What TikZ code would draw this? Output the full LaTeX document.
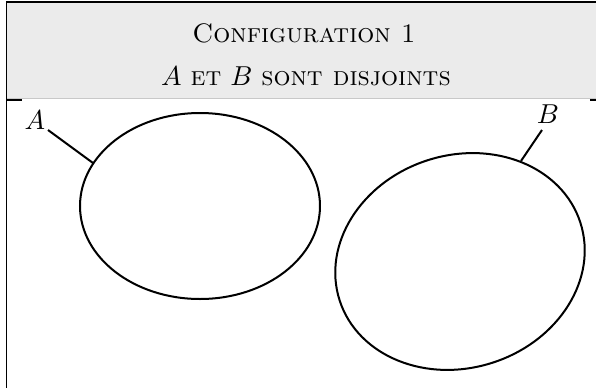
\documentclass[tikz,border=0pt]{standalone}
\usetikzlibrary{calc}
\definecolor{hdrfill}{RGB}{235,235,235}
\definecolor{hdrline}{RGB}{200,200,200}
\begin{document}
\begin{tikzpicture}[x=0.4pt,y=-0.4pt,
  font=\fontsize{10.7}{13}\selectfont,
  frameline/.style={line width=0.6pt,black},
  setline/.style={line width=0.8pt,black},
  lbl/.style={inner sep=0pt},
  title/.style={inner sep=0pt,anchor=base}]
\useasboundingbox (0,0) rectangle (596,388);
% header
\fill[hdrfill] (6.5,2) rectangle (596,98.5);
\draw[hdrline,line width=0.5pt] (6.5,98.5) -- (596,98.5);
\draw[frameline] (6.5,388) -- (6.5,2) -- (596,2);
\draw[frameline] (6.5,100) -- (22,100);
\draw[frameline] (590,100) -- (596,100);
\node[title] (t1) at (304,42.6) {\textsc{Configuration 1}};
\node[title] (t2) at (306,85.5) {$A$ \textsc{et} $B$ \textsc{sont disjoints}};
% sets
\draw[setline] (200,206) ellipse [x radius=120, y radius=93];
\draw[setline,rotate around={18:(460,261.5)}] (460,261.5) ellipse [x radius=126.5, y radius=106.3];
\node[lbl] (la) at (35,120) {$A$};
\node[lbl] (lb) at (548,114) {$B$};
\coordinate (ca) at (48,130);
\coordinate (pa) at (93,163);
\coordinate (cb) at (542,130);
\coordinate (pb) at (521,161);
\draw[setline] (ca) -- (pa);
\draw[setline] (cb) -- (pb);
\end{tikzpicture}
\end{document}
